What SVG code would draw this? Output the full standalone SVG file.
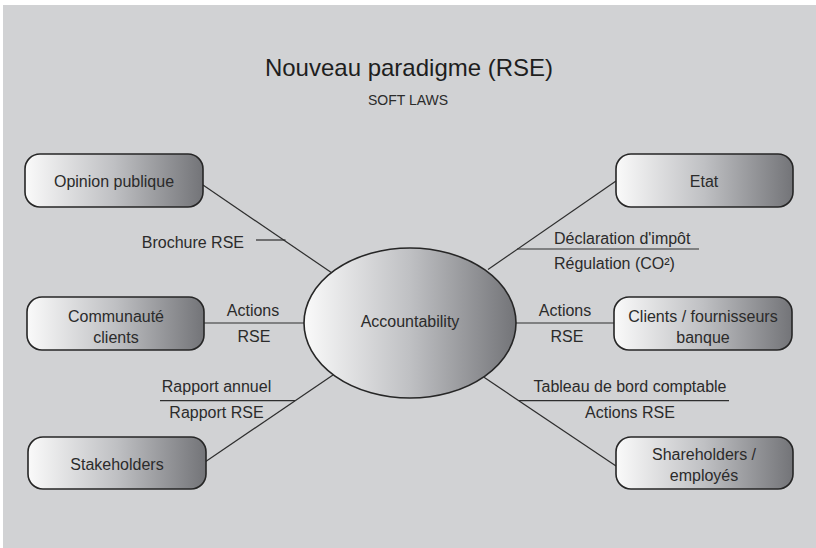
<svg xmlns="http://www.w3.org/2000/svg" width="816" height="548" viewBox="0 0 816 548">
<defs>
<linearGradient id="g" x1="0" y1="0" x2="1" y2="0">
<stop offset="0" stop-color="#fafafa"/>
<stop offset="0.5" stop-color="#bfc0c3"/>
<stop offset="1" stop-color="#737478"/>
</linearGradient>
<style>
.bg{fill:#d1d2d4}
.box{fill:url(#g);stroke:#262626;stroke-width:1.6}
.ln{stroke:#2e2e2e;stroke-width:1.2;fill:none}
text{font-family:"Liberation Sans",Arial,sans-serif;fill:#2b2b2b}
.lab{font-size:16px;text-anchor:middle}
.title{font-size:24px;text-anchor:middle;fill:#1e1e1e}
.sub{font-size:14px;text-anchor:middle}
</style>
</defs>
<rect class="bg" x="3" y="5" width="813" height="543"/>
<text class="title" x="409" y="76">Nouveau paradigme (RSE)</text>
<text class="sub" x="408" y="105">SOFT LAWS</text>

<g id="connectors">
<line class="ln" x1="203" y1="185" x2="332" y2="273"/>
<line class="ln" x1="256" y1="240" x2="285.5" y2="240"/>
<line class="ln" x1="616" y1="181" x2="488" y2="269.5"/>
<line class="ln" x1="517" y1="249" x2="699" y2="249"/>
<line class="ln" x1="204" y1="323" x2="304" y2="323"/>
<line class="ln" x1="516" y1="323" x2="614" y2="323"/>
<line class="ln" x1="205" y1="462" x2="333" y2="375"/>
<line class="ln" x1="160" y1="400.7" x2="295" y2="400.7"/>
<line class="ln" x1="616" y1="466" x2="484" y2="377.3"/>
<line class="ln" x1="519" y1="400.7" x2="729" y2="400.7"/>
<text class="lab" x="244" y="248" style="text-anchor:end">Brochure RSE</text>
<text class="lab" x="554" y="244" style="text-anchor:start">Déclaration d'impôt</text>
<text class="lab" x="554" y="269" style="text-anchor:start">Régulation (CO²)</text>
<text class="lab" x="253" y="316">Actions</text>
<text class="lab" x="254" y="342">RSE</text>
<text class="lab" x="565" y="316">Actions</text>
<text class="lab" x="567" y="342">RSE</text>
<text class="lab" x="216.5" y="392">Rapport annuel</text>
<text class="lab" x="216.5" y="418">Rapport RSE</text>
<text class="lab" x="630" y="392">Tableau de bord comptable</text>
<text class="lab" x="630" y="418">Actions RSE</text>
</g>

<g id="accountability">
<ellipse class="box" cx="410" cy="323" rx="106" ry="75"/>
<text class="lab" x="410" y="327">Accountability</text>
</g>
<g id="opinion">
<rect class="box" x="25" y="154" width="178" height="53" rx="15"/>
<text class="lab" x="114" y="187">Opinion publique</text>
</g>
<g id="etat">
<rect class="box" x="616" y="154" width="177" height="53" rx="15"/>
<text class="lab" x="704" y="187">Etat</text>
</g>
<g id="communaute">
<rect class="box" x="27" y="297" width="177" height="53" rx="15"/>
<text class="lab" x="116" y="322">Communauté</text>
<text class="lab" x="116" y="343">clients</text>
</g>
<g id="clients">
<rect class="box" x="614" y="297" width="178" height="53" rx="15"/>
<text class="lab" x="703" y="322">Clients / fournisseurs</text>
<text class="lab" x="703" y="343">banque</text>
</g>
<g id="stakeholders">
<rect class="box" x="28" y="437" width="178" height="52" rx="15"/>
<text class="lab" x="117" y="470">Stakeholders</text>
</g>
<g id="shareholders">
<rect class="box" x="616" y="437" width="177" height="52" rx="15"/>
<text class="lab" x="704" y="460">Shareholders /</text>
<text class="lab" x="704" y="481">employés</text>
</g>
</svg>
